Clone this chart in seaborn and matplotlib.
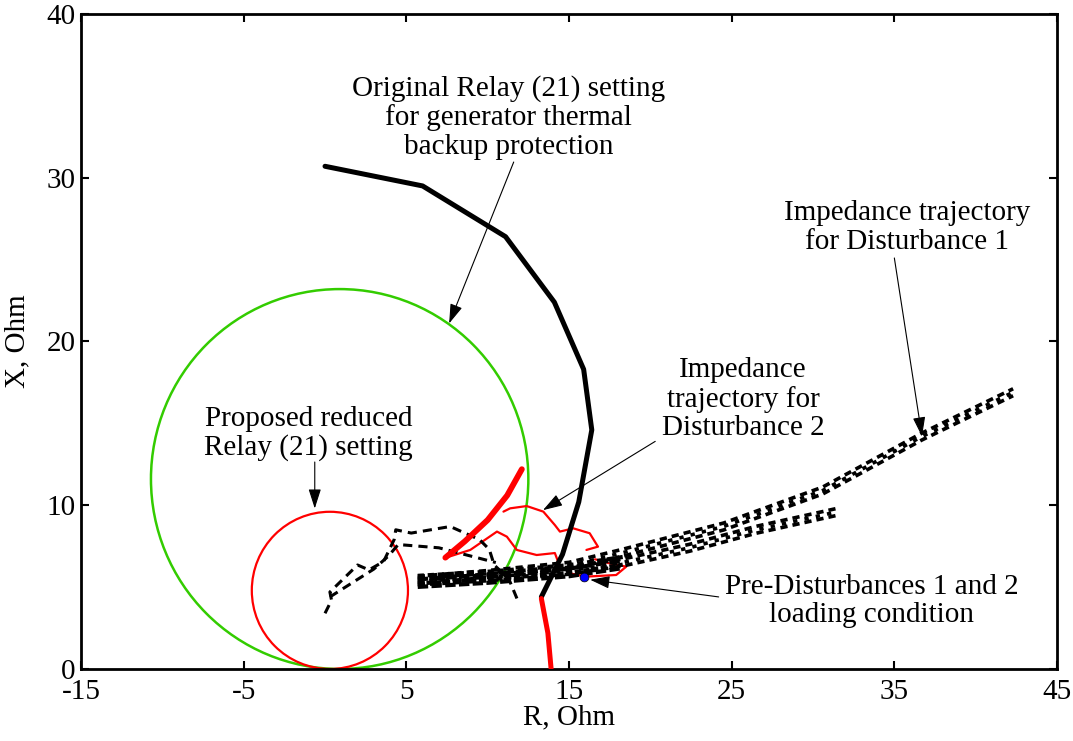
import numpy as np
import pandas as pd
import seaborn as sns
import matplotlib.pyplot as plt
import matplotlib.transforms as mtransforms
from matplotlib.patches import Circle

# relay characteristics (mho circles)
green_center = (0.9, 11.6)
green_radius = 11.6
red_center = (0.3, 4.8)
red_radius = 4.8

# original relay (21) setting - thick black curve
orig_r = [0.0, 6.0, 11.1, 14.1, 15.9, 16.4, 15.6, 14.6, 13.3]
orig_x = [30.7, 29.5, 26.4, 22.4, 18.3, 14.6, 10.2, 7.0, 4.4]

# thick red segments
red_low_r = [13.3, 13.7, 13.9]
red_low_x = [4.3, 2.2, 0.0]
red_streak_r = [7.4, 8.6, 10.0, 11.2, 12.1]
red_streak_x = [6.8, 7.8, 9.1, 10.6, 12.2]

# thin red trajectory for disturbance 2
red_a_r = [7.31, 8.93, 10.57, 11.18, 11.79, 13.01, 14.13, 14.33]
red_a_x = [6.76, 7.27, 8.39, 8.08, 7.27, 6.96, 7.08, 6.55]
red_b_r = [10.97, 11.38, 12.4, 13.42, 14.13, 14.44, 15.26, 16.27, 16.78, 16.07]
red_b_x = [9.61, 9.81, 9.95, 9.61, 8.79, 8.39, 8.59, 8.29, 7.47, 7.27]
red_c_r = [15.05, 16.07, 17.9, 18.52, 17.5, 16.6]
red_c_x = [5.84, 5.64, 5.74, 6.25, 6.45, 6.7]

# dashed black trajectories inside the reduced setting
dash_a_r = [0.0, 0.4, 0.3, 2.0, 2.7, 3.6, 4.25, 4.35, 5.3, 7.7, 9.5, 10.1, 10.4, 11.3, 11.8]
dash_a_x = [3.4, 4.2, 4.7, 6.35, 6.05, 6.56, 7.9, 8.5, 8.3, 8.7, 7.9, 7.3, 6.35, 5.5, 4.3]
dash_b_r = [0.3, 3.0, 3.9, 4.5, 7.0, 10.5]
dash_b_x = [4.4, 6.1, 6.9, 7.6, 7.4, 6.5]

# disturbance 1 trajectories
traj_up_r = [5.7, 10.0, 15.0, 18.3, 24.5, 30.6, 36.7, 42.3]
traj_up_x = [5.45, 5.8, 6.3, 7.1, 8.7, 10.9, 14.2, 16.9]
traj_lo_r = [5.7, 10.0, 15.0, 18.3, 22.4, 26.5, 31.5]
traj_lo_x = [5.35, 5.6, 6.0, 6.5, 7.4, 8.5, 9.6]

# pre-disturbance loading point
pre_r = [15.9]
pre_x = [5.6]

xticks = [-15, -5, 5, 15, 25, 35, 45]
yticks = [0, 10, 20, 30, 40]

sns.set_theme(style="white")
plt.rcParams['font.family'] = ['Liberation Serif', 'DejaVu Serif']
plt.rcParams['text.color'] = 'black'
plt.rcParams['axes.labelcolor'] = 'black'
plt.rcParams['xtick.color'] = 'black'
plt.rcParams['ytick.color'] = 'black'

fig = plt.figure(figsize=(10.73, 7.41), dpi=100)
ax = fig.add_axes([0.0755, 0.0972, 0.9096, 0.8839])

ax.add_patch(Circle(green_center, green_radius, fill=False, color='#33cc00', lw=1.8, zorder=2))
ax.add_patch(Circle(red_center, red_radius, fill=False, color='#ff0000', lw=1.6, zorder=2))

def line(r, x, **kw):
    df = pd.DataFrame({'R': r, 'X': x})
    return sns.lineplot(data=df, x='R', y='X', sort=False, estimator=None, ax=ax, **kw)

line(orig_r, orig_x, color='black', lw=3.6, zorder=4)
line(red_low_r, red_low_x, color='#ff0000', lw=3.6, zorder=4)
line(red_streak_r, red_streak_x, color='#ff0000', lw=4.2, zorder=4)
for rr, xx in [(red_a_r, red_a_x), (red_b_r, red_b_x), (red_c_r, red_c_x)]:
    line(rr, xx, color='#ff0000', lw=1.6, zorder=3)

line(dash_a_r, dash_a_x, color='black', lw=2.2, dashes=(3, 2), zorder=3)
line(dash_b_r, dash_b_x, color='black', lw=2.2, dashes=(3, 2), zorder=3)

# disturbance 1 trajectories: oscillating band drawn as offset dashed strokes
for dy in [-2.5, 0, 2.5]:
    off = ax.transData + mtransforms.ScaledTranslation(0, dy / 72, fig.dpi_scale_trans)
    for rr, xx in [(traj_up_r, traj_up_x), (traj_lo_r, traj_lo_x)]:
        lns = ax.plot(rr, xx, color='black', lw=2.6, zorder=3)
        lns[0].set_dashes((2.0, 1.4) if dy != 0 else (1.2, 2.0))
        lns[0].set_transform(off)
# dense region near the loading point
for dy, dash in [(-4, (2.5, 0.8)), (-1.5, (1.5, 0.6)), (1.5, (2.5, 0.8)), (4, (1.5, 0.9))]:
    off = ax.transData + mtransforms.ScaledTranslation(0, dy / 72, fig.dpi_scale_trans)
    lns = ax.plot(traj_lo_r[:4], traj_lo_x[:4], color='black', lw=3.0, zorder=3)
    lns[0].set_dashes(dash)
    lns[0].set_transform(off)

sns.scatterplot(x=pre_r, y=pre_x, color='#0000ff', edgecolor='black', s=40, zorder=6, ax=ax)

fs = 21
ls = 1.12
arrow = dict(arrowstyle='-|>,head_length=1.0,head_width=0.32', color='black', lw=0.8,
             shrinkA=0, shrinkB=0)

ax.text(11.3, 31.1, "Original Relay (21) setting\nfor generator thermal\nbackup protection",
        ha='center', va='bottom', fontsize=fs, linespacing=ls)
ax.annotate("", xy=(7.63, 21.1), xytext=(11.6, 30.96), arrowprops=arrow)

ax.text(-1.0, 12.7, "Proposed reduced\nRelay (21) setting",
        ha='center', va='bottom', fontsize=fs, linespacing=ls)
ax.annotate("", xy=(-0.63, 9.8), xytext=(-0.63, 12.64), arrowprops=arrow)

ax.text(25.7, 13.9, "Impedance\ntrajectory for\nDisturbance 2",
        ha='center', va='bottom', fontsize=fs, linespacing=ls)
ax.annotate("", xy=(13.4, 9.7), xytext=(20.3, 13.9), arrowprops=arrow)

ax.text(35.8, 25.3, "Impedance trajectory\nfor Disturbance 1",
        ha='center', va='bottom', fontsize=fs, linespacing=ls)
ax.annotate("", xy=(36.7, 14.2), xytext=(35.0, 25.1), arrowprops=arrow)

ax.text(33.6, 2.5, "Pre-Disturbances 1 and 2\nloading condition",
        ha='center', va='bottom', fontsize=fs, linespacing=ls)
ax.annotate("", xy=(16.3, 5.45), xytext=(24.2, 4.4), arrowprops=arrow)

ax.set_xlim(-15, 45)
ax.set_ylim(0, 40)
ax.set_xticks(xticks)
ax.set_yticks(yticks)
ax.set_xticklabels([str(t) for t in xticks], fontsize=fs)
ax.set_yticklabels([str(t) for t in yticks], fontsize=fs)
ax.tick_params(direction='in', length=6, width=1.5, top=True, right=True,
               bottom=True, left=True, colors='black')
ax.tick_params(axis='x', pad=7)
ax.tick_params(axis='y', pad=4)
for s in ax.spines.values():
    s.set_visible(True)
    s.set_linewidth(2.0)
    s.set_color('black')
ax.set_xlabel("R, Ohm", fontsize=fs, labelpad=0)
ax.set_ylabel("X, Ohm", fontsize=fs)
ax.yaxis.set_label_coords(-0.052, 0.5)
ax.grid(False)

fig.savefig("out.png", dpi=100)
